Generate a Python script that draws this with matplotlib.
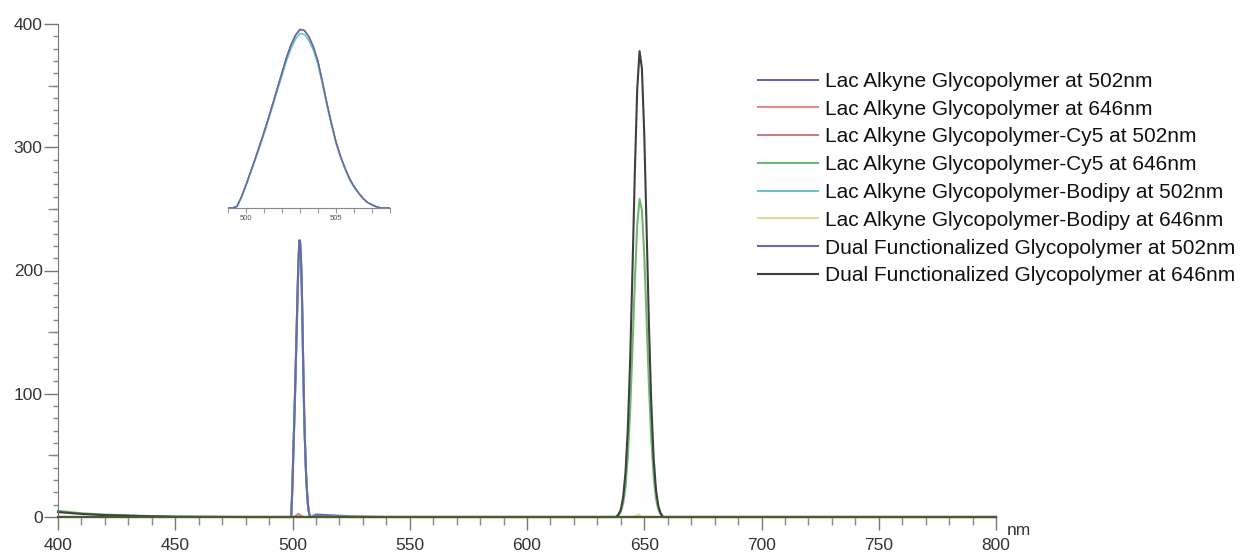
import matplotlib.pyplot as plt
from matplotlib.ticker import MultipleLocator, FixedLocator

plt.rcParams['font.family'] = ['Liberation Sans', 'DejaVu Sans']

# --- data ---
labels = ["Lac Alkyne Glycopolymer at 502nm",
          "Lac Alkyne Glycopolymer at 646nm",
          "Lac Alkyne Glycopolymer-Cy5 at 502nm",
          "Lac Alkyne Glycopolymer-Cy5 at 646nm",
          "Lac Alkyne Glycopolymer-Bodipy at 502nm",
          "Lac Alkyne Glycopolymer-Bodipy at 646nm",
          "Dual Functionalized Glycopolymer at 502nm",
          "Dual Functionalized Glycopolymer at 646nm"]
colors = ["#5f68a8", "#e58a86", "#c48088", "#6fb86f",
          "#6cc3c6", "#dcd69a", "#6a6aa8", "#3f3f3f"]

# 502 nm emission band
wl_502 = [400, 498.5, 499.0,
          499.25, 499.5, 499.75, 500.0, 500.25, 500.5, 500.75, 501.0,
          501.25, 501.5, 501.75, 502.0, 502.25, 502.5, 502.75, 503.0,
          503.25, 503.5, 503.75, 504.0, 504.25, 504.5, 504.75, 505.0,
          505.25, 505.5, 505.75, 506.0, 506.25, 506.5, 506.75, 507.0,
          507.25, 507.5,
          508.0, 510, 515, 525, 540, 800]
lac_502 = [0, 0, 0,
           0, 2, 14, 29, 45, 61, 78, 95,
           113, 132, 151, 170, 189, 205, 217, 224.5,
           223, 215, 202, 184, 158, 131, 106, 83,
           65, 50, 37, 27, 19, 12, 7, 4,
           1.5, 0,
           0, 2, 1.5, 0.5, 0, 0]
bodipy_502 = [0, 0, 0,
              0, 2, 14, 28, 44, 60, 76, 93,
              111, 129, 148, 166, 185, 200, 212, 219.5,
              218, 210, 198, 180, 155, 128, 104, 81,
              64, 49, 36, 26, 19, 12, 7, 4,
              1.5, 0,
              0, 0.5, 0.3, 0, 0, 0]
dual_502 = [0, 0, 0,
            0, 2, 14, 29, 45, 61, 78, 95,
            113, 132, 151, 170, 189, 205, 217, 224.5,
            223, 215, 202, 184, 158, 131, 106, 83,
            65, 50, 37, 27, 19, 12, 7, 4,
            1.5, 0,
            0, 0.5, 0.3, 0, 0, 0]

# 646 nm emission band
wl_646 = [400, 410, 420, 435, 450, 480, 637, 638, 639, 640, 641, 642, 643, 644,
          645, 646, 647, 648, 649, 650, 651, 652, 653, 654, 655,
          656, 657, 658, 660, 800]
cy5_646 = [5, 3, 2, 1, 0.3, 0, 0, 0, 1.4, 4, 11, 24, 49, 87,
           138, 192, 237, 258, 249, 212, 160, 107, 63, 33, 15,
           6, 2, 0, 0, 0]
dual_646 = [4, 2.5, 1.5, 0.8, 0.2, 0, 0, 0, 2, 6, 16, 36, 72, 128,
            202, 281, 347, 378, 364, 311, 234, 156, 92, 48, 22,
            9, 3, 0, 0, 0]

# nearly flat traces
wl_flat = [400, 500, 501.5, 502.5, 503.5, 505, 645, 646.5, 647.5, 649, 800]
lac_646 = [0, 0, 0, 0, 0, 0, 0, 0, 0, 0, 0]
cy5_502 = [0, 0, 1, 2.5, 1, 0, 0, 0, 0, 0, 0]
bodipy_646 = [0, 0, 0, 0, 0, 0, 0, 1, 2, 0, 0]

series = [(wl_502, lac_502), (wl_flat, lac_646), (wl_flat, cy5_502),
          (wl_646, cy5_646), (wl_502, bodipy_502), (wl_flat, bodipy_646),
          (wl_502, dual_502), (wl_646, dual_646)]

fig = plt.figure(figsize=(12.4, 5.54), dpi=100)
ax = fig.add_axes([58 / 1240, 37 / 554, 938 / 1240, 493 / 554])

for (x, y), c, lab in zip(series, colors, labels):
    ax.plot(x, y, color=c, lw=1.5, label=lab, clip_on=False)

ax.set_xlim(400, 800)
ax.set_ylim(0, 400)
for s in ['top', 'right']:
    ax.spines[s].set_visible(False)
ax.spines['left'].set_color('#777777')
ax.spines['bottom'].set_color('#4b5a2e')
ax.spines['bottom'].set_linewidth(1.5)

ax.xaxis.set_major_locator(MultipleLocator(50))
ax.xaxis.set_minor_locator(MultipleLocator(10))
ax.yaxis.set_major_locator(MultipleLocator(100))
ax.yaxis.set_minor_locator(MultipleLocator(10))
ax.tick_params(axis='x', which='major', length=9.4, width=1, color='#777777',
               labelsize=12.5, labelcolor='#333333', pad=6)
ax.tick_params(axis='x', which='minor', length=5.5, width=1, color='#888888')
ax.tick_params(axis='y', which='major', length=10, width=1, color='#777777',
               labelsize=12.5, labelcolor='#333333', pad=1)
ax.tick_params(axis='y', which='minor', length=3.6, width=1, color='#888888')

# medium ticks at the 50s
sec = ax.secondary_yaxis('left')
sec.yaxis.set_major_locator(FixedLocator([50, 150, 250, 350]))
sec.tick_params(length=7, width=1, color='#888888', labelleft=False)
sec.spines['left'].set_visible(False)

ax.text(1.012, -0.012, "nm", transform=ax.transAxes, fontsize=12.5,
        color='#333333', ha='left', va='top')

leg = ax.legend(loc='upper left', bbox_to_anchor=(758 / 1240, 1 - 72 / 554),
                bbox_transform=fig.transFigure, frameon=False, fontsize=15,
                handlelength=2.9, handletextpad=0.3, labelspacing=0.42,
                borderpad=0, borderaxespad=0)
for t in leg.get_texts():
    t.set_color('#111111')

# inset zoom on the 502 nm peak
ins = fig.add_axes([228 / 1240, 1 - 208 / 554, 162 / 1240, 183 / 554])
for (x, y), c in zip(series, colors):
    if x is wl_502:
        ins.plot(x, y, color=c, lw=1.1)
ins.set_xlim(499, 508)
ins.set_ylim(0, 230)
for s in ['top', 'right', 'left']:
    ins.spines[s].set_visible(False)
ins.spines['bottom'].set_color('#888888')
ins.patch.set_alpha(0)
ins.set_yticks([])
ins.xaxis.set_major_locator(FixedLocator([500, 505]))
ins.xaxis.set_minor_locator(MultipleLocator(1))
ins.tick_params(axis='x', which='both', length=3.5, width=0.8, color='#999999',
                labelsize=5.5, labelcolor='#555555', pad=1.5)

fig.savefig("out.png", dpi=100)
